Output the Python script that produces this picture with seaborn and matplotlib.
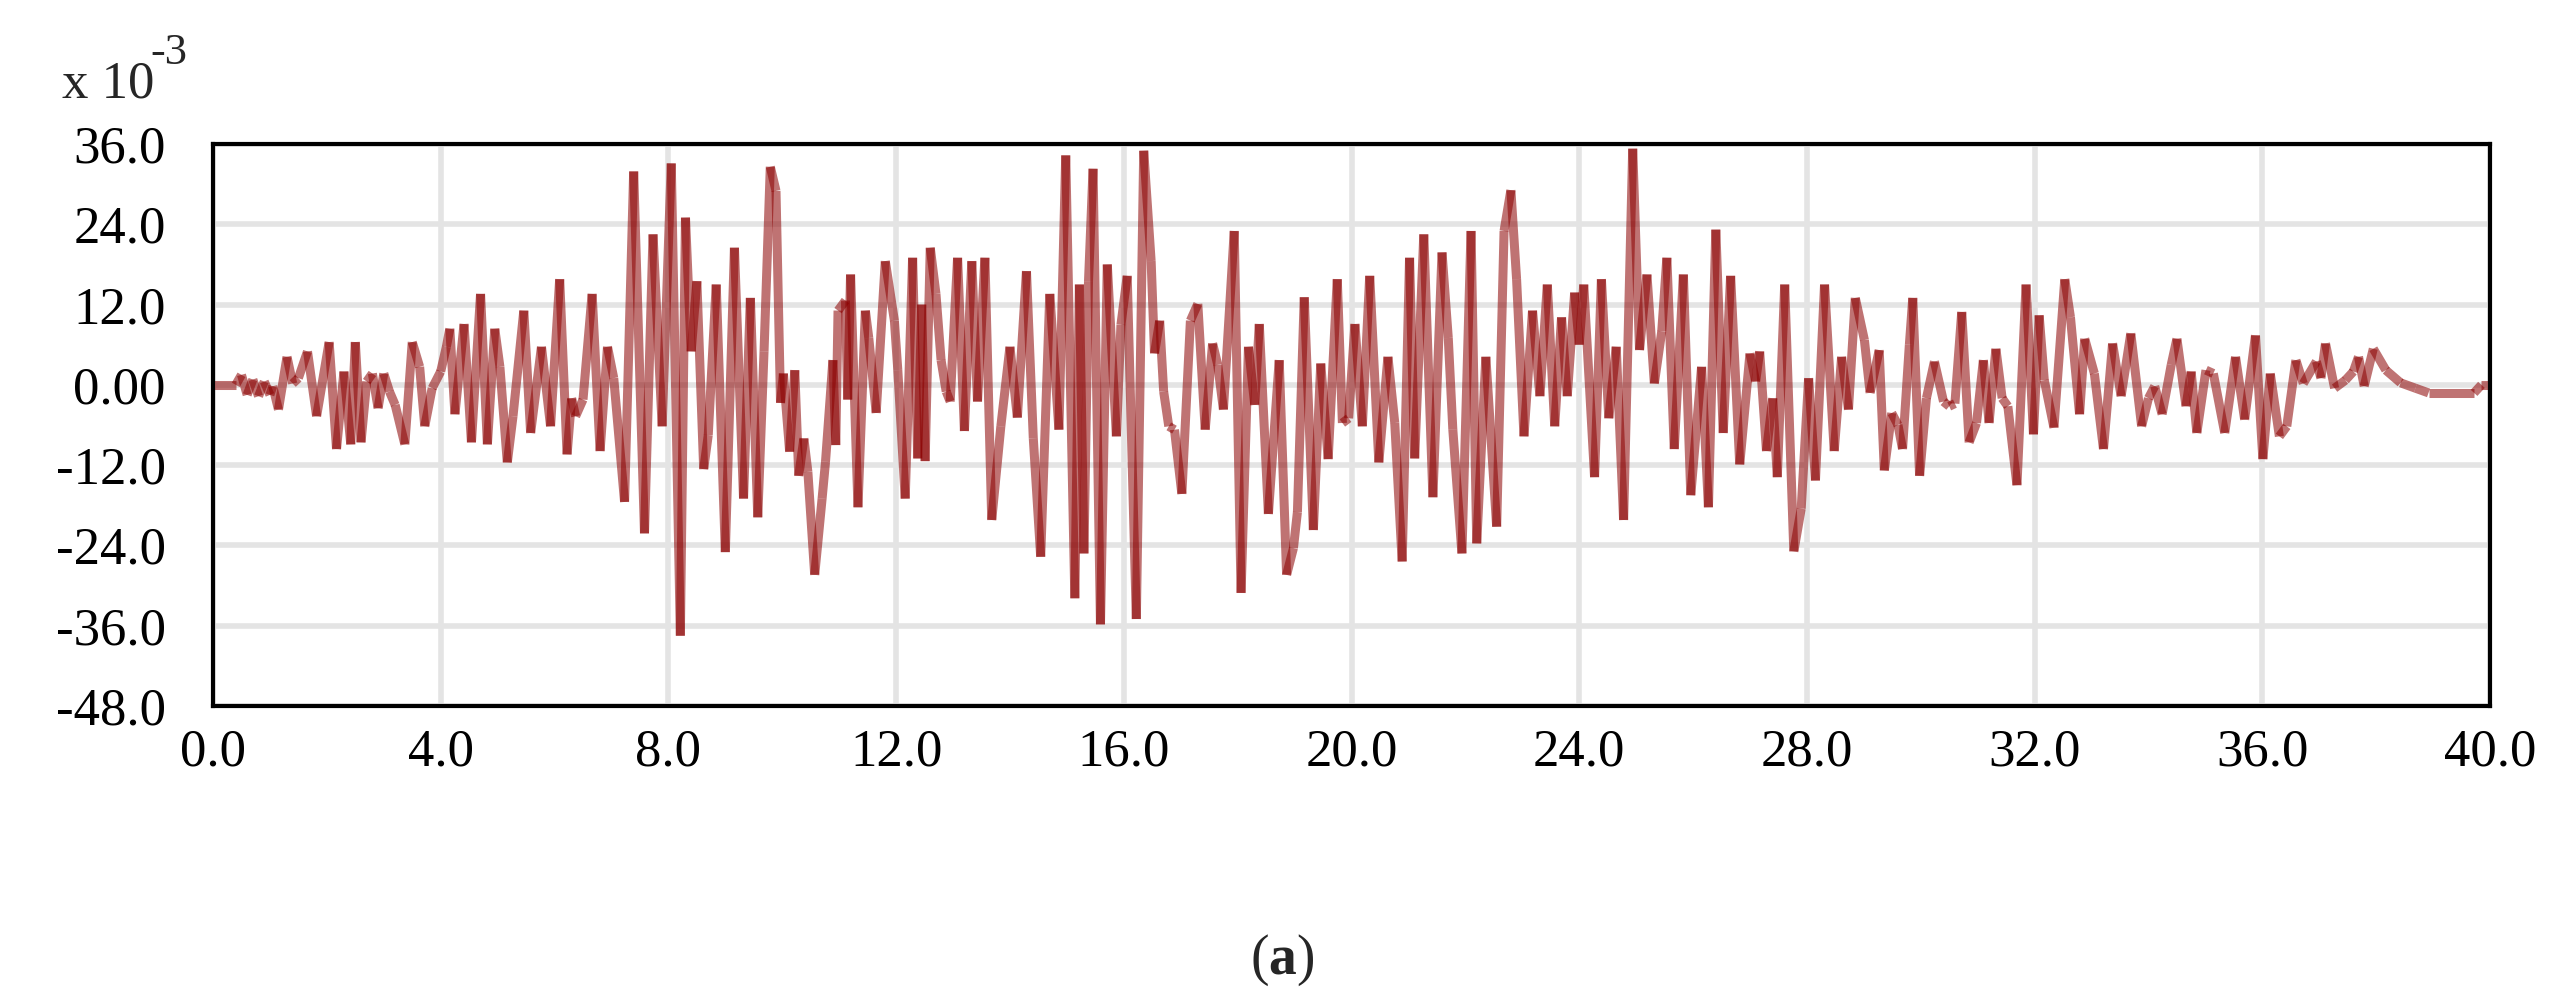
import numpy as np
import pandas as pd
import matplotlib
matplotlib.use("Agg")
import matplotlib.pyplot as plt
import seaborn as sns

# ground acceleration record, values in 1e-3 units
time_s = [
    0.0, 0.4, 0.5, 0.6, 0.7, 0.8, 0.9, 1.0, 1.05, 1.15, 1.3, 1.4, 1.5, 1.66, 1.82,
    2.04, 2.17, 2.3, 2.42, 2.5, 2.6, 2.7, 2.8, 2.9, 3.0, 3.1, 3.2, 3.37, 3.5, 3.63,
    3.72, 3.85, 4.0, 4.1, 4.16, 4.25, 4.41, 4.54, 4.7, 4.82, 4.95, 5.04, 5.17, 5.27,
    5.46, 5.58, 5.77, 5.93, 6.09, 6.22, 6.3, 6.37, 6.5, 6.66, 6.8, 6.93, 7.04, 7.23,
    7.39, 7.58, 7.73, 7.89, 8.05, 8.21, 8.3, 8.4, 8.5, 8.62, 8.7, 8.84, 9.0, 9.16,
    9.32, 9.44, 9.57, 9.68, 9.79, 9.89, 9.97, 10.02, 10.13, 10.22, 10.29, 10.38,
    10.45, 10.57, 10.7, 10.76, 10.89, 10.94, 10.98, 11.11, 11.15, 11.2, 11.33,
    11.46, 11.52, 11.65, 11.81, 11.97, 12.03, 12.16, 12.29, 12.38, 12.45, 12.51,
    12.6, 12.7, 12.79, 12.88, 12.95, 13.08, 13.2, 13.33, 13.43, 13.56, 13.68,
    13.84, 14.0, 14.13, 14.29, 14.41, 14.54, 14.7, 14.86, 14.98, 15.14, 15.22,
    15.3, 15.38, 15.46, 15.59, 15.71, 15.87, 15.95, 16.06, 16.22, 16.35, 16.48,
    16.54, 16.63, 16.7, 16.79, 16.89, 17.02, 17.17, 17.3, 17.43, 17.56, 17.65,
    17.75, 17.94, 18.06, 18.19, 18.3, 18.38, 18.54, 18.73, 18.86, 18.98, 19.05,
    19.17, 19.33, 19.46, 19.59, 19.75, 19.84, 19.95, 20.06, 20.19, 20.32, 20.48,
    20.64, 20.76, 20.89, 21.02, 21.11, 21.27, 21.43, 21.59, 21.7, 21.78, 21.94,
    22.1, 22.2, 22.36, 22.55, 22.68, 22.8, 22.9, 23.03, 23.18, 23.31, 23.44,
    23.57, 23.69, 23.79, 23.92, 24.0, 24.08, 24.27, 24.39, 24.52, 24.65, 24.78,
    24.94, 25.06, 25.19, 25.32, 25.45, 25.54, 25.67, 25.83, 25.96, 26.15, 26.27,
    26.4, 26.53, 26.66, 26.82, 27.0, 27.1, 27.17, 27.29, 27.4, 27.48, 27.61,
    27.77, 27.9, 28.03, 28.15, 28.31, 28.48, 28.61, 28.73, 28.85, 29.01, 29.11,
    29.27, 29.36, 29.49, 29.6, 29.68, 29.8, 29.86, 29.98, 30.1, 30.24, 30.4,
    30.5, 30.6, 30.72, 30.85, 30.98, 31.1, 31.2, 31.32, 31.43, 31.53, 31.69,
    31.85, 31.98, 32.08, 32.17, 32.34, 32.53, 32.63, 32.79, 32.88, 33.05, 33.21,
    33.37, 33.52, 33.69, 33.88, 34.0, 34.11, 34.24, 34.4, 34.5, 34.66, 34.75,
    34.85, 35.01, 35.14, 35.34, 35.53, 35.69, 35.88, 36.01, 36.14, 36.3, 36.43,
    36.59, 36.72, 36.95, 37.03, 37.11, 37.27, 37.46, 37.6, 37.69, 37.79, 37.95,
    38.17, 38.43, 38.69, 38.92, 39.72, 39.85, 40.0,
]
accel = [
    0.0, 0.0, 1.5, -1.5, 0.8, -1.7, 0.5, -1.5, -0.2, -3.7, 4.2, 0.2, 1.0, 5.0, -4.7,
    6.4, -9.6, 2.0, -8.9, 6.4, -8.6, 0.5, 1.7, -3.5, 1.7, -1.0, -3.0, -8.9, 6.4, 2.7,
    -6.2, -0.5, 2.0, 5.7, 8.4, -4.4, 9.1, -8.6, 13.6, -8.9, 8.4, 2.7, -11.6, -4.7,
    11.1, -7.2, 5.7, -6.2, 15.8, -10.4, -2.0, -4.7, -2.2, 13.6, -9.9, 5.7, 1.0, -17.5,
    31.9, -22.2, 22.5, -6.2, 33.1, -37.5, 25.0, 5.0, 15.5, -12.6, -7.5, 15.0, -25.0, 20.5,
    -17.0, 13.0, -19.8, 5.0, 32.6, 29.0, -2.7, 1.7, -10.0, 2.2, -13.6, -8.0,
    -13.0, -28.4, -17.0, -11.5, 3.7, -9.0, 11.1, 12.6, -2.2, 16.5, -18.3,
    11.1, 7.0, -4.2, 18.5, 9.6, 2.2, -17.0, 19.0, -11.0, 12.0, -11.4,
    20.5, 13.6, 3.7, -1.0, -2.5, 19.0, -6.9, 18.5, -2.5, 19.0, -20.2,
    -6.2, 5.7, -4.9, 17.0, -8.0, -25.7, 13.6, -6.7, 34.3, -31.9, 15.0,
    -25.2, 15.5, 32.3, -35.8, 18.0, -7.7, 9.0, 16.3, -35.0, 35.0, 18.5,
    4.7, 9.6, -1.0, -6.2, -6.7, -16.3, 9.6, 12.1, -6.7, 6.2, 3.0,
    -3.7, 23.0, -31.1, 5.7, -3.0, 9.1, -19.3, 3.7, -28.4, -24.4, -19.0,
    13.1, -21.7, 3.2, -11.1, 15.8, -5.7, -5.0, 9.1, -6.2, 16.3, -11.6,
    4.2, -5.7, -26.4, 19.0, -11.0, 22.5, -16.8, 19.8, 7.0, -6.7, -25.2,
    23.0, -23.7, 4.2, -21.2, 23.0, 29.1, 15.8, -7.7, 11.1, -1.7, 15.0,
    -6.2, 10.1, -1.7, 13.8, 6.0, 15.0, -13.8, 15.8, -5.0, 5.7, -20.2,
    35.3, 5.2, 16.5, 0.2, 8.0, 19.0, -9.6, 16.5, -16.5, 2.7, -18.3,
    23.2, -7.2, 16.3, -11.9, 4.7, 0.5, 5.0, -9.9, -2.0, -13.8, 15.0,
    -24.9, -18.5, 1.0, -14.3, 15.0, -9.9, 4.2, -3.7, 13.0, 6.7, -1.2,
    5.2, -12.8, -4.2, -6.0, -9.6, 6.0, 13.0, -13.6, -2.0, 3.5, -2.5,
    -3.2, -2.8, 10.9, -8.6, -5.7, 3.7, -5.7, 5.4, -2.0, -3.2, -15.0,
    15.0, -7.4, 10.4, 0.7, -6.4, 15.8, 10.1, -4.4, 6.9, 1.7, -9.6,
    6.2, -1.7, 7.7, -6.2, -2.0, -0.2, -4.4, 3.0, 6.9, -3.2, 2.0,
    -7.2, 2.2, 1.7, -7.2, 4.2, -5.2, 7.4, -11.1, 1.7, -7.7, -6.2,
    3.7, 0.2, 3.5, 1.0, 6.2, -0.5, 0.7, 2.0, 4.2, -0.2, 5.4,
    2.2, 0.3, -0.5, -1.2, -1.2, 0.0, 0.0,
]

x_ticks = [0, 4, 8, 12, 16, 20, 24, 28, 32, 36, 40]
x_labels = ["0.0", "4.0", "8.0", "12.0", "16.0", "20.0", "24.0", "28.0", "32.0", "36.0", "40.0"]
y_ticks = [36, 24, 12, 0, -12, -24, -36, -48]
y_labels = ["36.0", "24.0", "12.0", "0.00", "-12.0", "-24.0", "-36.0", "-48.0"]

# every consecutive pair is its own little line so overlaps get darker
rows = []
for i in range(len(time_s) - 1):
    rows.append((i, time_s[i], accel[i]))
    rows.append((i, time_s[i + 1], accel[i + 1]))
seg_df = pd.DataFrame(rows, columns=["seg", "t", "a"])

sns.set_theme(style="white")
plt.rcParams["font.family"] = ["Liberation Serif", "DejaVu Serif"]
plt.rcParams["mathtext.fontset"] = "custom"
plt.rcParams["mathtext.rm"] = "Liberation Serif"
plt.rcParams["mathtext.bf"] = "Liberation Serif:bold"

fig = plt.figure(figsize=(25.64, 9.96), dpi=100)
ax = fig.add_axes([213 / 2564, 1 - 706 / 996, 2277 / 2564, 562 / 996])

sns.lineplot(
    data=seg_df, x="t", y="a", units="seg", estimator=None, sort=False,
    color="#8B0000", alpha=0.55, linewidth=6.5, legend=False, ax=ax,
    solid_capstyle="butt",
)

ax.set_xlim(0, 40)
ax.set_ylim(-48, 36)
ax.set_xticks(x_ticks)
ax.set_xticklabels(x_labels)
ax.set_yticks(y_ticks)
ax.set_yticklabels(y_labels)
ax.set_xlabel("")
ax.set_ylabel("")

ax.grid(True, color="#E4E4E4", linewidth=4)
ax.set_axisbelow(True)
for s in ax.spines.values():
    s.set_visible(True)
    s.set_color("black")
    s.set_linewidth(3)

ax.tick_params(axis="both", length=0, labelsize=38, colors="black")
ax.tick_params(axis="y", pad=34)
ax.tick_params(axis="x", pad=16)

fig.text(62 / 2564, 1 - 97 / 996, "x 10", fontsize=38, ha="left", va="baseline")
fig.text(150 / 2564, 1 - 64 / 996, "-3", fontsize=32, ha="left", va="baseline")
fig.text(0.5, 1 - 960 / 996, r"($\mathbf{a}$)", fontsize=40, ha="center", va="center")

fig.savefig("out.png", dpi=100, facecolor="white")
